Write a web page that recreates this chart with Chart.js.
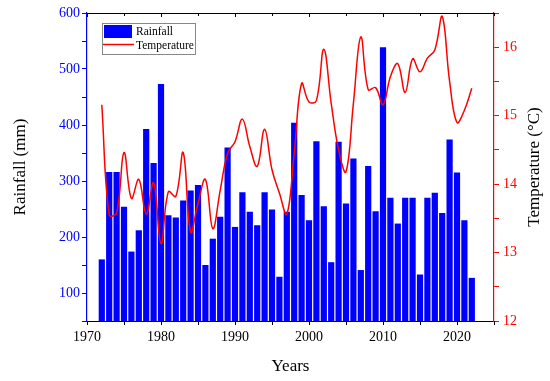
<!DOCTYPE html>
<html>
<head>
<meta charset="utf-8">
<script src="https://cdn.jsdelivr.net/npm/chart.js@4.4.0/dist/chart.umd.min.js"></script>
<style>
  html, body { margin: 0; padding: 0; background: #fff; }
</style>
</head>
<body>
<canvas id="chart" width="550" height="381"></canvas>
<script>
// 年份
const years = [1972, 1973, 1974, 1975, 1976, 1977, 1978, 1979, 1980, 1981,
  1982, 1983, 1984, 1985, 1986, 1987, 1988, 1989, 1990, 1991,
  1992, 1993, 1994, 1995, 1996, 1997, 1998, 1999, 2000, 2001,
  2002, 2003, 2004, 2005, 2006, 2007, 2008, 2009, 2010, 2011,
  2012, 2013, 2014, 2015, 2016, 2017, 2018, 2019, 2020, 2021, 2022];

// 降雨量 (mm)
const rainfall = [160, 316, 316, 254, 174, 212, 393, 332, 473, 239,
  235, 265, 283, 293, 150, 197, 236, 360, 218, 280,
  245, 221, 280, 249, 129, 245, 404, 275, 230, 371,
  255, 155, 370, 260, 340, 141, 327, 246, 539, 270,
  224, 270, 270, 133, 270, 279, 243, 374, 315, 230, 127];

// 温度 (°C)
const temperature = [15.16, 13.55, 13.58, 14.46, 13.79, 14.07, 13.56, 14.02, 13.13, 13.89,
  13.82, 14.46, 13.30, 13.72, 14.07, 13.35, 13.91, 14.45, 14.62, 14.95,
  14.55, 14.26, 14.80, 14.21, 13.87, 13.56, 14.45, 15.47, 15.20, 15.22,
  15.97, 15.18, 14.50, 14.18, 15.18, 16.15, 15.38, 15.41, 15.16, 15.57,
  15.76, 15.34, 15.83, 15.64, 15.84, 15.96, 16.45, 15.50, 14.90, 15.08, 15.40];

const seriesNames = ['Rainfall', 'Temperature'];
const yearRange = [1970, 2025];
const rainRange = [50, 600];
const tempRange = [12, 16.5];

const FONT = "'Liberation Serif', 'Times New Roman', serif";
const BLUE = '#0000ff';
const RED = '#ff0000';

// 图内图例 + 顶部边框 + 右侧标题
const extras = {
  id: 'extras',
  afterDraw(chart) {
    const ctx = chart.ctx;
    const area = chart.chartArea;
    const xs = chart.scales.x;
    ctx.save();

    // 顶部边框和刻度
    ctx.strokeStyle = '#000';
    ctx.lineWidth = 1;
    ctx.beginPath();
    ctx.moveTo(area.left, area.top + 0.5);
    ctx.lineTo(area.right, area.top + 0.5);
    xs.ticks.forEach(t => {
      const px = Math.round(xs.getPixelForValue(t.value)) + 0.5;
      const len = t.value % 10 === 0 ? 4 : 3;
      ctx.moveTo(px, area.top);
      ctx.lineTo(px, area.top + len);
    });
    ctx.stroke();

    // 图例
    ctx.fillStyle = '#fff';
    ctx.fillRect(102, 23, 94, 31);
    ctx.strokeStyle = '#888';
    ctx.strokeRect(102.5, 23.5, 93, 31);
    ctx.fillStyle = BLUE;
    ctx.fillRect(104, 25, 28, 13);
    ctx.strokeStyle = RED;
    ctx.lineWidth = 1.5;
    ctx.beginPath();
    ctx.moveTo(103, 44.5);
    ctx.lineTo(134, 44.5);
    ctx.stroke();
    ctx.fillStyle = '#000';
    ctx.font = '11.5px ' + FONT;
    ctx.textAlign = 'left';
    ctx.textBaseline = 'middle';
    ctx.fillText(seriesNames[0], 136, 32);
    ctx.fillText(seriesNames[1], 136, 45.5);

    // 右侧标题
    ctx.translate(535, (area.top + area.bottom) / 2);
    ctx.rotate(-Math.PI / 2);
    ctx.textAlign = 'center';
    ctx.font = '17px ' + FONT;
    ctx.fillText('Temperature (°C)', 0, 0);
    ctx.restore();
  }
};

const ctx = document.getElementById('chart').getContext('2d');
new Chart(ctx, {
  type: 'bar',
  data: {
    datasets: [
      {
        type: 'line',
        label: seriesNames[1],
        data: years.map((y, i) => ({ x: y, y: temperature[i] })),
        borderColor: RED,
        borderWidth: 1.5,
        pointRadius: 0,
        tension: 0.4,
        fill: false,
        yAxisID: 'y1',
        order: 0
      },
      {
        label: seriesNames[0],
        data: years.map((y, i) => ({ x: y, y: rainfall[i] })),
        backgroundColor: BLUE,
        borderWidth: 0,
        categoryPercentage: 1,
        barPercentage: 0.84,
        yAxisID: 'y',
        order: 1
      }
    ]
  },
  options: {
    responsive: false,
    animation: false,
    layout: { padding: { top: 13, left: 0, right: 0, bottom: 0 } },
    plugins: {
      legend: { display: false },
      tooltip: { enabled: false }
    },
    scales: {
      x: {
        type: 'linear',
        position: 'bottom',
        min: yearRange[0],
        max: yearRange[1],
        offset: false,
        afterFit: s => { s.height = 60; },
        grid: { drawOnChartArea: false, offset: false, tickLength: 4, tickColor: '#000' },
        border: { color: '#000', width: 1 },
        ticks: {
          stepSize: 5,
          autoSkip: false,
          maxRotation: 0,
          padding: 4,
          color: '#000',
          font: { family: FONT, size: 14 },
          callback: v => (v % 10 === 0 ? String(v) : '')
        },
        title: {
          display: true,
          text: 'Years',
          color: '#000',
          font: { family: FONT, size: 17 },
          padding: { top: 0, bottom: 4 }
        }
      },
      y: {
        type: 'linear',
        position: 'left',
        min: rainRange[0],
        max: rainRange[1],
        afterFit: s => { s.width = 87; },
        grid: { drawOnChartArea: false, tickLength: 5, tickColor: BLUE },
        border: { color: BLUE, width: 1.2 },
        ticks: {
          stepSize: 50,
          autoSkip: false,
          padding: 2,
          color: BLUE,
          font: { family: FONT, size: 14 },
          callback: v => (v % 100 === 0 ? String(v) : '')
        },
        title: {
          display: true,
          text: 'Rainfall (mm)',
          color: '#000',
          font: { family: FONT, size: 17 },
          padding: { top: 10, bottom: 0 }
        }
      },
      y1: {
        type: 'linear',
        position: 'right',
        min: tempRange[0],
        max: tempRange[1],
        afterFit: s => { s.width = 56; },
        grid: { drawOnChartArea: false, tickLength: 5, tickColor: RED },
        border: { color: RED, width: 1.2 },
        ticks: {
          stepSize: 0.5,
          autoSkip: false,
          padding: 4,
          color: RED,
          font: { family: FONT, size: 14 },
          callback: v => (Number.isInteger(v) ? String(v) : '')
        }
      }
    }
  },
  plugins: [extras]
});
</script>
</body>
</html>
